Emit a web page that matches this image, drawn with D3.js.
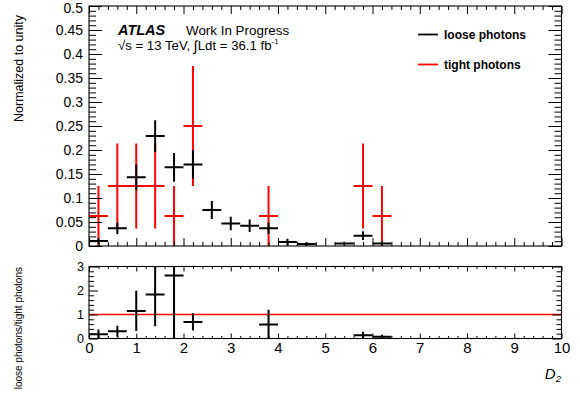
<!DOCTYPE html>
<html>
<head>
<meta charset="utf-8">
<script src="https://cdn.jsdelivr.net/npm/d3@7"></script>
<style>
  body { margin: 0; background: #fff; }
  svg { display: block; font-family: "Liberation Sans", Arial, Helvetica, sans-serif; }
</style>
</head>
<body>
<svg id="chart" width="580" height="397"></svg>
<script>
// D2 binning: 25 bins of width 0.4 between 0 and 10 (only the filled ones are listed)
const binCenters = [0.2, 0.6, 1.0, 1.4, 1.8, 2.2, 2.6, 3.0, 3.4, 3.8, 4.2, 4.6, 5.0, 5.4, 5.8, 6.2];
const binWidth = 0.4;

// loose photons, normalised to unity
const looseValues = [0.0104, 0.037, 0.143, 0.229, 0.164, 0.170, 0.075, 0.047, 0.042, 0.037, 0.0083, 0.004, 0, 0.005, 0.0215, 0.005];
const looseErrors = [0.006, 0.012, 0.027, 0.033, 0.030, 0.030, 0.019, 0.014, 0.013, 0.012, 0.007, 0.004, 0, 0.004, 0.009, 0.004];

// tight photons, normalised to unity
const tightValues = [0.0625, 0.125, 0.125, 0.125, 0.0625, 0.25, 0, 0, 0, 0.0625, 0, 0, 0, 0, 0.125, 0.0625];
const tightErrors = [0.0625, 0.0884, 0.0884, 0.0884, 0.0625, 0.125, 0, 0, 0, 0.0625, 0, 0, 0, 0, 0.0884, 0.0625];

// loose / tight ratio
const ratioValues = [0.18, 0.30, 1.15, 1.83, 2.63, 0.69, 0, 0, 0, 0.58, 0, 0, 0, 0, 0.14, 0.07];
const ratioErrors = [0.2, 0.23, 0.84, 1.32, 2.66, 0.36, 0, 0, 0, 0.62, 0, 0, 0, 0, 0.14, 0.09];

// axis ticks and labels
const xTicks = [0, 1, 2, 3, 4, 5, 6, 7, 8, 9, 10];
const xTickLabels = ["0", "1", "2", "3", "4", "5", "6", "7", "8", "9", "10"];
const yTopTicks = [0, 0.05, 0.1, 0.15, 0.2, 0.25, 0.3, 0.35, 0.4, 0.45, 0.5];
const yTopTickLabels = ["0", "0.05", "0.1", "0.15", "0.2", "0.25", "0.3", "0.35", "0.4", "0.45", "0.5"];
const yRatioTicks = [0, 1, 2, 3];
const yRatioTickLabels = ["0", "1", "2", "3"];

const legendEntries = ["loose photons", "tight photons"];
const seriesColors = ["#000000", "#ff0000"];

const svg = d3.select("#chart");

// panel geometry
const left = 89, right = 561.5;
const topPanel = { top: 6, bottom: 246 };
const ratioPanel = { top: 266.5, bottom: 338.5 };

const x = d3.scaleLinear().domain([0, 10]).range([left, right]);
const yTop = d3.scaleLinear().domain([0, 0.5]).range([topPanel.bottom, topPanel.top]);
const yRatio = d3.scaleLinear().domain([0, 3]).range([ratioPanel.bottom, ratioPanel.top]);

const xMinor = d3.range(0, 10.001, 0.2).map(v => +v.toFixed(2)).filter(v => Math.abs(v - Math.round(v)) > 1e-6);
const yTopMinor = d3.range(0, 0.5001, 0.01).map(v => +v.toFixed(3)).filter(v => Math.abs(v * 20 - Math.round(v * 20)) > 1e-6);
const yRatioMinor = d3.range(0, 3.001, 0.2).map(v => +v.toFixed(2)).filter(v => Math.abs(v - Math.round(v)) > 1e-6);

function styleAxis(g, fontSize) {
  g.select(".domain").remove();
  g.selectAll(".tick line").attr("stroke", "#000").attr("stroke-width", 1);
  g.attr("font-family", null).attr("font-size", fontSize);
  g.selectAll("text").attr("fill", "#000");
}

// inside-pointing ticks on all four sides of a frame
function drawFrame(yScale, panel, opts) {
  const g = svg.append("g");
  // bottom
  g.append("g").attr("transform", `translate(0,${panel.bottom})`)
    .call(d3.axisBottom(x).tickValues(xTicks).tickSize(-opts.xMajor)
      .tickPadding(opts.xPad).tickFormat(opts.xLabels ? (d, i) => xTickLabels[i] : ""))
    .call(a => styleAxis(a, opts.xFont));
  g.append("g").attr("transform", `translate(0,${panel.bottom})`)
    .call(d3.axisBottom(x).tickValues(xMinor).tickSize(-opts.xMajor / 2).tickFormat(""))
    .call(a => styleAxis(a, 10));
  // top
  g.append("g").attr("transform", `translate(0,${panel.top})`)
    .call(d3.axisTop(x).tickValues(xTicks).tickSize(-opts.xMajor).tickFormat(""))
    .call(a => styleAxis(a, 10));
  g.append("g").attr("transform", `translate(0,${panel.top})`)
    .call(d3.axisTop(x).tickValues(xMinor).tickSize(-opts.xMajor / 2).tickFormat(""))
    .call(a => styleAxis(a, 10));
  // left
  const leftAxis = g.append("g").attr("transform", `translate(${left},0)`)
    .call(d3.axisLeft(yScale).tickValues(opts.yTicks).tickSize(-opts.yMajor)
      .tickPadding(opts.yPad).tickFormat((d, i) => opts.yLabels[i]))
    .call(a => styleAxis(a, opts.yFont));
  // keep the topmost label inside the page
  if (opts.nudgeTopLabel) {
    leftAxis.selectAll(".tick text").filter(d => d === opts.yTicks[opts.yTicks.length - 1])
      .attr("y", opts.nudgeTopLabel);
  }
  g.append("g").attr("transform", `translate(${left},0)`)
    .call(d3.axisLeft(yScale).tickValues(opts.yMinor).tickSize(-opts.yMinorLen).tickFormat(""))
    .call(a => styleAxis(a, 10));
  // right
  g.append("g").attr("transform", `translate(${right},0)`)
    .call(d3.axisRight(yScale).tickValues(opts.yTicks).tickSize(-opts.yMajor).tickFormat(""))
    .call(a => styleAxis(a, 10));
  g.append("g").attr("transform", `translate(${right},0)`)
    .call(d3.axisRight(yScale).tickValues(opts.yMinor).tickSize(-opts.yMinorLen).tickFormat(""))
    .call(a => styleAxis(a, 10));
  // box
  g.append("rect")
    .attr("x", left).attr("y", panel.top)
    .attr("width", right - left).attr("height", panel.bottom - panel.top)
    .attr("fill", "none").attr("stroke", "#000").attr("stroke-width", 1.1);
}

function clipFor(id, panel) {
  svg.append("clipPath").attr("id", id).append("rect")
    .attr("x", left).attr("y", panel.top)
    .attr("width", right - left).attr("height", panel.bottom - panel.top);
}
clipFor("clipTop", topPanel);
clipFor("clipRatio", ratioPanel);

// error-bar crosses: horizontal bar spans the bin, vertical bar spans +/- error
function drawPoints(layer, yScale, values, errors, color) {
  const pts = binCenters.map((c, i) => ({ c, v: values[i], e: errors[i] })).filter(p => p.v > 0);
  const g = layer.append("g").attr("stroke", color).attr("stroke-width", 2).attr("fill", "none");
  g.selectAll("line.h").data(pts).join("line").attr("class", "h")
    .attr("x1", p => x(p.c - binWidth / 2)).attr("x2", p => x(p.c + binWidth / 2))
    .attr("y1", p => yScale(p.v)).attr("y2", p => yScale(p.v));
  g.selectAll("line.v").data(pts).join("line").attr("class", "v")
    .attr("x1", p => x(p.c)).attr("x2", p => x(p.c))
    .attr("y1", p => yScale(Math.max(p.v - p.e, yScale.domain()[0] - 1)))
    .attr("y2", p => yScale(p.v + p.e));
}

// ---- upper panel ----
const topLayer = svg.append("g").attr("clip-path", "url(#clipTop)");
drawPoints(topLayer, yTop, tightValues, tightErrors, seriesColors[1]);
drawPoints(topLayer, yTop, looseValues, looseErrors, seriesColors[0]);

drawFrame(yTop, topPanel, {
  xMajor: 8, xPad: 0, xFont: 15, xLabels: false,
  yTicks: yTopTicks, yLabels: yTopTickLabels, yMajor: 13, yMinorLen: 7, yPad: 6, yFont: 14, yMinor: yTopMinor,
  nudgeTopLabel: 2.3
});

// ---- ratio panel ----
const ratioLayer = svg.append("g").attr("clip-path", "url(#clipRatio)");
ratioLayer.append("line")
  .attr("x1", x(0)).attr("x2", x(10))
  .attr("y1", yRatio(1)).attr("y2", yRatio(1))
  .attr("stroke", seriesColors[1]).attr("stroke-width", 1.6);
drawPoints(ratioLayer, yRatio, ratioValues, ratioErrors, seriesColors[0]);

drawFrame(yRatio, ratioPanel, {
  xMajor: 5, xPad: 4, xFont: 15, xLabels: true,
  yTicks: yRatioTicks, yLabels: yRatioTickLabels, yMajor: 9, yMinorLen: 5, yPad: 5, yFont: 12.5, yMinor: yRatioMinor
});

// ---- axis titles ----
svg.append("text")
  .attr("transform", "translate(22.5,15) rotate(-90)")
  .attr("text-anchor", "end").attr("font-size", 12.5)
  .text("Normalized to unity");

svg.append("text")
  .attr("transform", "translate(22,267) rotate(-90)")
  .attr("text-anchor", "end").attr("font-size", 10)
  .text("loose photons/tight photons");

const xTitle = svg.append("text")
  .attr("x", 561).attr("y", 378.5)
  .attr("text-anchor", "end").attr("font-size", 15).attr("font-style", "italic");
xTitle.append("tspan").text("D");
xTitle.append("tspan").attr("font-size", 9.5).attr("dy", 3).text("2");

// ---- ATLAS label ----
svg.append("text")
  .attr("x", 118).attr("y", 34.5)
  .attr("font-size", 14.5).attr("font-weight", "bold").attr("font-style", "italic")
  .text("ATLAS");
svg.append("text")
  .attr("x", 186).attr("y", 34.5)
  .attr("font-size", 13.4)
  .text("Work In Progress");

const lumi = svg.append("text").attr("x", 118).attr("y", 49.5).attr("font-size", 13.2);
lumi.append("tspan").text("\u221As = 13 TeV, ");
lumi.append("tspan").attr("font-size", 14.5).attr("dy", 1.5).text("\u222B");
lumi.append("tspan").attr("dy", -1.5).text("Ldt = 36.1 fb");
lumi.append("tspan").attr("font-size", 8).attr("dy", -5.5).text("-1");

// ---- legend ----
const legend = svg.append("g");
legendEntries.forEach((name, i) => {
  const yy = 34.5 + i * 30;
  legend.append("line")
    .attr("x1", 418).attr("x2", 438).attr("y1", yy).attr("y2", yy)
    .attr("stroke", seriesColors[i]).attr("stroke-width", 1.8);
  legend.append("text")
    .attr("x", 444).attr("y", yy + 4.2)
    .attr("font-size", 12).attr("font-weight", "bold")
    .text(name);
});
</script>
</body>
</html>
